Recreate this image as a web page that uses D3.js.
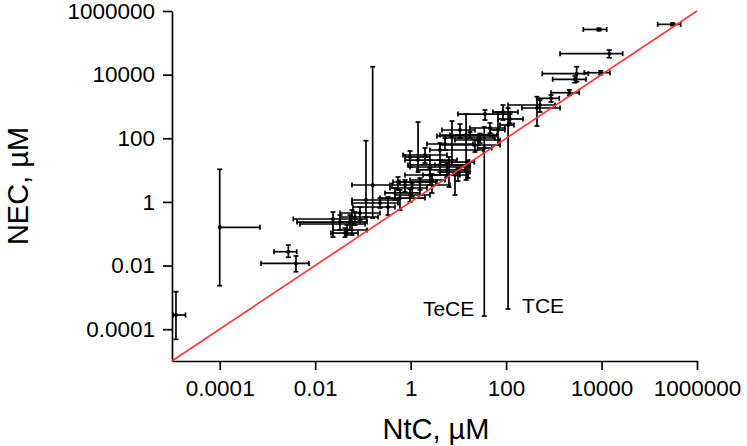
<!DOCTYPE html>
<html>
<head>
<meta charset="utf-8">
<script src="https://cdn.jsdelivr.net/npm/d3@7"></script>
<style>
   body { margin: 0; background: #fff; }
   svg { display: block; font-family: "Liberation Sans", Arial, Helvetica, sans-serif; }
</style>
</head>
<body>
<svg id="chart" width="747" height="446"></svg>
<script>
"use strict"

// NtC (x) with its range, µM
const ntc = [1.21e-5, 1e-4, 2.74e-3, 3.96e-3, 0.0236, 0.0331, 0.059, 0.0465, 0.0422, 0.16,
   0.116, 0.228, 0.335, 0.0869, 0.0682, 0.0536, 0.543, 0.762, 1.07, 1.57,
   2.8, 0.47, 4.12, 5.78, 8.49, 15.9, 2.0, 1.43, 2.54, 4.12,
   5.25, 7.35, 10.8, 36.1, 14.5, 86.1, 121, 513, 444, 873,
   2110, 2770, 3010, 9600, 14500, 8830, 309000, 67.6, 22.3, 28.4,
   9.82, 0.598, 0.971, 0.971, 6.35, 17.5, 46, 25.8, 2.54, 34.9, 110]
const ntcLo = [1.05e-5, 1e-4, 1.37e-3, 7.33e-4, 3.48e-3, 4.16e-3, 4.81e-3, 0.0236, 0.0214, 0.059,
   0.059, 0.059, 0.0619, 0.0331, 0.0331, 0.0331, 0.427, 0.406, 0.369, 0.598,
   0.971, 0.29, 0.879, 1.36, 1.82, 4.12, 0.692, 0.762, 0.971, 2.54,
   2.2, 3.56, 4.54, 9.82, 6.67, 53.1, 67.6, 110, 215, 438,
   873, 946, 573, 4350, 1350, 4150, 150000, 46, 4.12, 5.25,
   4.12, 0.228, 0.47, 0.762, 3.24, 4.12, 17.5, 8.49, 0.762, 25.5, 74.5]
const ntcHi = [1.92e-5, 6.98e-4, 4.1e-3, 7.41e-3, 0.12, 0.0869, 0.111, 0.122, 0.0789, 0.369,
   0.543, 0.543, 0.47, 0.228, 0.207, 0.122, 3.56, 6.67, 2.2, 3.4,
   5.25, 1.57, 17.5, 13.8, 15.9, 21.6, 5.78, 9.35, 17.5, 32.8,
   20.3, 53.1, 22.3, 121, 46, 177, 226, 1060, 1350, 1300,
   3410, 4720, 5270, 15000, 27700, 12800, 455000, 94, 74.5, 58.5,
   17.5, 2.0, 2.54, 2.54, 17.5, 64.4, 94, 74.5, 10.8, 50.2, 146]

// NEC (y) with its range, µM
const nec = [2.79e-4, 0.159, 0.0272, 0.0117, 0.29, 0.233, 0.202, 0.131, 0.105, 3.4,
   1.15, 0.923, 0.692, 0.448, 0.335, 0.233, 4.22, 3.4, 2.74, 4.22,
   4.88, 1.91, 14.5, 10.1, 7.0, 17.9, 29.8, 20.7, 12.5, 42.8,
   66.1, 118, 182, 578, 126, 668, 403, 1110, 893, 1800,
   2700, 7130, 10700, 11500, 45500, 263000, 380000, 182, 61.4, 102,
   8.71, 1.32, 1.65, 25.8, 14.5, 126, 210, 88.3, 7.0, 49.4, 261]
const necLo = [4.8e-5, 2.32e-3, 0.0182, 6.4e-3, 0.0789, 0.131, 0.0912, 0.0912, 0.0789, 0.312,
   0.335, 0.643, 0.387, 0.27, 0.188, 0.131, 2.37, 2.05, 1.53, 2.37,
   1.91, 1.15, 8.71, 6.07, 1.65, 5.64, 16.7, 8.71, 7.0, 20.7,
   42.8, 14.5, 102, 375, 4.88, 375, 295, 668, 243, 1380,
   2240, 5570, 6000, 10000, 34000, 240000, 347000, 61.4, 37, 70.8,
   4.54, 0.556, 1.0, 12.5, 2.94, 100, 146, 61.4, 3.4, 2.59e-4, 4.31e-4]
const necHi = [1.51e-3, 10.6, 0.0442, 0.02, 0.482, 0.387, 0.556, 0.188, 0.151, 17700,
   83.8, 1.32, 1.43, 0.692, 0.482, 0.387, 6.07, 4.88, 3.93, 5.64,
   7.53, 2.74, 20.7, 16.7, 8.09, 20.7, 49.4, 324, 20.7, 71.0,
   102, 348, 281, 773, 578, 1110, 575, 1590, 2020, 2290,
   3310, 9060, 17700, 13200, 59400, 288000, 417000, 668, 88.3, 141,
   11.6, 2.37, 2.51, 39.8, 25.8, 158, 302, 126, 11.6, 226, 893]

// the last two rows are the labelled compounds
const labelNames = ['TeCE', 'TCE']
const tickVals = [1e-4, 1e-2, 1, 100, 1e4, 1e6]

const rows = ntc.map((v, i) => ({
   x: v, xLo: ntcLo[i], xHi: ntcHi[i],
   y: nec[i], yLo: necLo[i], yHi: necHi[i]
}))

const x_scale = d3.scaleLog([1e-5, 1e6], [172, 697])
const y_scale = d3.scaleLog([1e-5, 1e6], [361, 11])
const cap = 2.5

const svg = d3.select('#chart')

const x_axis = svg.append('g')
   .attr('transform', 'translate(0, 361)')
   .call(d3.axisBottom(x_scale).tickValues(tickVals).tickFormat(String)
      .tickSize(9).tickSizeOuter(0).tickPadding(10))
const y_axis = svg.append('g')
   .attr('transform', 'translate(172, 0)')
   .call(d3.axisLeft(y_scale).tickValues(tickVals).tickFormat(String)
      .tickSize(9).tickSizeOuter(0).tickPadding(8))

for (const g of [x_axis, y_axis]) {
   g.attr('font-size', 22.5).attr('font-family', null)
   g.selectAll('path, line').attr('stroke', '#000').attr('stroke-width', 1.7)
   g.selectAll('text').attr('fill', '#000')
}

const bars = svg.append('g')
   .attr('stroke', '#000')
   .attr('stroke-width', 1.7)
   .selectAll('g')
   .data(rows)
   .join('g')

// horizontal range
bars.append('line')
   .attr('x1', d => x_scale(d.xLo)).attr('x2', d => x_scale(d.xHi))
   .attr('y1', d => y_scale(d.y)).attr('y2', d => y_scale(d.y))
bars.selectAll('line.xcap')
   .data(d => [d.xLo, d.xHi].map(v => ({ v, y: d.y })))
   .join('line')
   .attr('class', 'xcap')
   .attr('x1', c => x_scale(c.v)).attr('x2', c => x_scale(c.v))
   .attr('y1', c => y_scale(c.y) - cap).attr('y2', c => y_scale(c.y) + cap)

// vertical range
bars.append('line')
   .attr('x1', d => x_scale(d.x)).attr('x2', d => x_scale(d.x))
   .attr('y1', d => y_scale(d.yLo)).attr('y2', d => y_scale(d.yHi))
bars.selectAll('line.ycap')
   .data(d => [d.yLo, d.yHi].map(v => ({ v, x: d.x })))
   .join('line')
   .attr('class', 'ycap')
   .attr('x1', c => x_scale(c.x) - cap).attr('x2', c => x_scale(c.x) + cap)
   .attr('y1', c => y_scale(c.v)).attr('y2', c => y_scale(c.v))

bars.append('circle')
   .attr('cx', d => x_scale(d.x))
   .attr('cy', d => y_scale(d.y))
   .attr('r', 2)
   .attr('fill', '#000')
   .attr('stroke', 'none')

// NEC = NtC
svg.append('path')
   .attr('d', d3.line().x(d => x_scale(d)).y(d => y_scale(d))([1e-5, 1e6]))
   .attr('stroke', '#f03c3c')
   .attr('stroke-width', 1.7)
   .attr('fill', 'none')

const tece = rows[rows.length - 2]
const tce = rows[rows.length - 1]
svg.append('text')
   .attr('x', x_scale(tece.x) - 10)
   .attr('y', y_scale(tece.yLo))
   .attr('text-anchor', 'end')
   .attr('font-size', 21)
   .text(labelNames[0])
svg.append('text')
   .attr('x', x_scale(tce.x) + 14)
   .attr('y', y_scale(tce.yLo) + 4)
   .attr('font-size', 21)
   .text(labelNames[1])

svg.append('text')
   .attr('x', 436)
   .attr('y', 439)
   .attr('text-anchor', 'middle')
   .attr('font-size', 29)
   .text('NtC, \u00b5M')

svg.append('text')
   .attr('transform', 'translate(28, 186) rotate(-90)')
   .attr('text-anchor', 'middle')
   .attr('font-size', 29)
   .text('NEC, \u00b5M')
</script>
</body>
</html>
